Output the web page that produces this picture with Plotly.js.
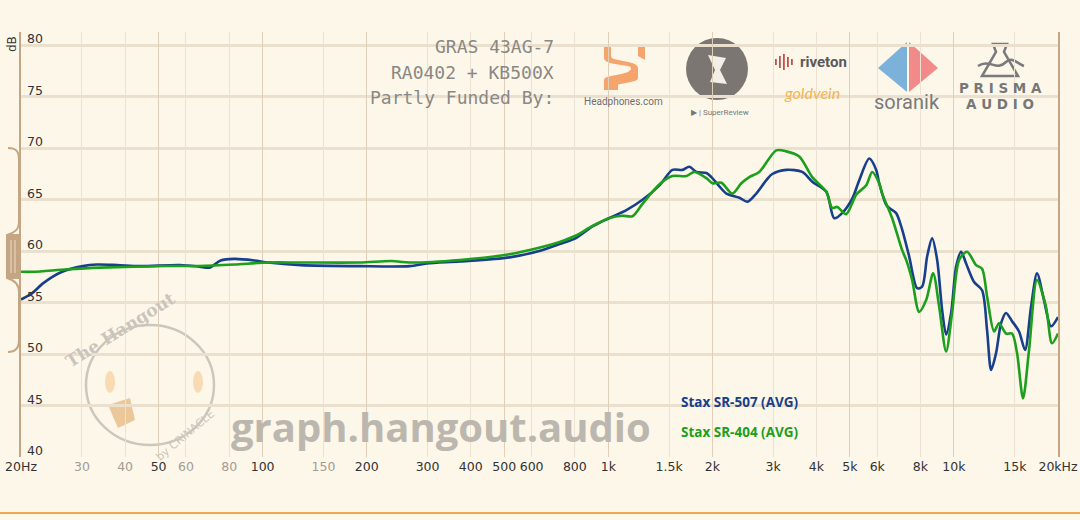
<!DOCTYPE html>
<html>
<head>
<meta charset="utf-8">
<script src="https://cdn.plot.ly/plotly-3.0.1.min.js"></script>
<style>
  html, body { margin: 0; padding: 0; background: #fdf7ea; }
  #chart { width: 1080px; height: 520px; }
</style>
</head>
<body>
<div id="chart"></div>
<script>
// ---------------- data ----------------
const FREQ_507 = [20, 21.5, 23.2, 26.3, 30.2, 33.1, 37.9, 44.1, 57.6, 65.6, 70.2, 75.6, 82.7, 94.6, 103.7, 128.9, 190.8, 266, 298.5, 372, 518, 643, 723, 804, 900, 1004, 1128, 1256, 1406, 1533, 1638, 1716, 1798, 1922, 1987, 2096, 2196, 2394, 2526, 2680, 2866, 2982, 3274, 3640, 3890, 4270, 4504, 4750, 5078, 5322, 5686, 5958, 6078, 6368, 6496, 6804, 7082, 7420, 7826, 8090, 8366, 8648, 8942, 9242, 9492, 9814, 10146, 10490, 10844, 11436, 12060, 12470, 12808, 13240, 13688, 14148, 14726, 15428, 16058, 16712, 17392, 18218, 19088, 20000];
const SPL_507  = [55.3, 55.9, 56.9, 58.0, 58.55, 58.7, 58.65, 58.55, 58.65, 58.5, 58.4, 59.1, 59.25, 59.1, 58.9, 58.65, 58.55, 58.55, 58.8, 59.0, 59.4, 60.1, 60.7, 61.25, 62.4, 63.2, 64.0, 65.0, 66.4, 67.9, 67.9, 68.2, 67.7, 67.6, 67.2, 66.3, 65.6, 65.2, 64.8, 65.6, 66.9, 67.5, 67.9, 67.7, 66.75, 65.8, 63.2, 63.7, 65.1, 66.9, 69.0, 67.9, 66.6, 64.5, 64.2, 63.7, 62.1, 59.5, 56.4, 56.55, 59.5, 61.25, 59.15, 54.3, 51.9, 54.0, 58.5, 59.95, 58.8, 57.0, 56.2, 52.3, 48.45, 50.1, 53.0, 54.0, 53.2, 52.2, 50.4, 54.6, 57.85, 55.25, 52.7, 53.6];

const FREQ_404 = [20, 21.7, 27.2, 33.8, 52.9, 65.6, 82.7, 103.7, 128.9, 190.8, 236, 266, 372, 518, 643, 723, 804, 900, 1004, 1098, 1175, 1256, 1406, 1533, 1683, 1774, 1922, 2000, 2124, 2284, 2426, 2558, 2734, 3062, 3274, 3568, 3890, 4270, 4444, 4596, 4878, 5216, 5574, 5800, 6078, 6200, 6626, 7082, 7274, 7568, 7930, 8310, 8706, 9062, 9492, 9878, 10352, 10916, 11588, 12060, 12470, 13062, 13506, 14148, 14726, 15224, 15844, 16492, 17392, 18462, 19216, 20000];
const SPL_404  = [58.0, 58.0, 58.24, 58.4, 58.56, 58.56, 58.7, 58.9, 58.9, 58.9, 59.05, 58.9, 59.15, 59.7, 60.4, 60.9, 61.5, 62.45, 63.2, 63.45, 63.4, 64.6, 66.5, 67.3, 67.3, 67.7, 67.1, 66.6, 66.65, 65.6, 66.6, 67.2, 67.7, 69.8, 69.7, 69.2, 67.2, 65.8, 64.2, 64.3, 63.6, 65.5, 66.4, 67.7, 66.6, 65.6, 63.2, 60.1, 59.15, 57.2, 54.1, 55.25, 57.85, 54.6, 50.25, 54.0, 59.15, 59.95, 58.65, 58.3, 55.6, 52.2, 53.0, 52.0, 52.0, 50.1, 45.7, 50.4, 57.2, 54.6, 51.05, 52.0];

const SERIES_NAMES = ['Stax SR-507 (AVG)', 'Stax SR-404 (AVG)'];
const X_TICKS = [20, 30, 40, 50, 60, 80, 100, 150, 200, 300, 400, 500, 600, 800, 1000, 1500, 2000, 3000, 4000, 5000, 6000, 8000, 10000, 15000, 20000];
const X_TICK_LABELS = ['20Hz', '30', '40', '50', '60', '80', '100', '150', '200', '300', '400', '500', '600', '800', '1k', '1.5k', '2k', '3k', '4k', '5k', '6k', '8k', '10k', '15k', '20kHz'];
const X_TICK_MUTED = ['30', '40', '60', '80', '150'];
const X_MAJOR_GRID = [50, 100, 200, 500, 1000, 2000, 5000, 10000];
const Y_TICKS = [40, 45, 50, 55, 60, 65, 70, 75, 80];
const Y_TICK_LABELS = ['40', '45', '50', '55', '60', '65', '70', '75', '80'];
const HEADER_LINES = ['GRAS 43AG-7', 'RA0402 + KB500X', 'Partly Funded By:'];
const WATERMARK = 'graph.hangout.audio';

// ---------------- layout helpers (decoration placement in pixels) ----------------
const W = 1080, H = 520;
const M = { l: 21, r: 22, t: 32, b: 63 };
const PW = W - M.l - M.r, PH = H - M.t - M.b;
const px = x => (x - M.l) / PW;
const py = y => (H - M.b - y) / PH;
function P(x, y) { return px(x).toFixed(5) + ',' + py(y).toFixed(5); }

const BLUE = '#173f8c';
const GREEN = '#1c9f1c';
const TAN = '#c4a584';

const tickText = X_TICK_LABELS.map(t => X_TICK_MUTED.includes(t)
  ? '<span style="fill:#a39c93">' + t + '</span>' : t);

const traces = [
  { x: FREQ_507, y: SPL_507, name: SERIES_NAMES[0], type: 'scatter', mode: 'lines',
    line: { color: BLUE, width: 2.6, shape: 'spline', smoothing: 0.8 }, hoverinfo: 'skip' },
  { x: FREQ_404, y: SPL_404, name: SERIES_NAMES[1], type: 'scatter', mode: 'lines',
    line: { color: GREEN, width: 2.6, shape: 'spline', smoothing: 0.8 }, hoverinfo: 'skip' },
  { x: [], y: [], xaxis: 'x2', type: 'scatter', mode: 'lines', showlegend: false, hoverinfo: 'skip' }
];

const annotations = [];
// y tick labels (inside, above each gridline)
Y_TICKS.forEach((v, i) => annotations.push({ xref: 'paper', yref: 'y', x: px(25), y: v, text: Y_TICK_LABELS[i],
  showarrow: false, xanchor: 'left', yanchor: 'bottom', yshift: -3,
  font: { family: 'DejaVu Sans', size: 12.5, color: '#333' } }));
// dB label
annotations.push({ xref: 'paper', yref: 'paper', x: px(12), y: py(44), text: 'dB', showarrow: false,
  textangle: -90, font: { family: 'DejaVu Sans', size: 12, color: '#333' }, xanchor: 'center', yanchor: 'middle' });
// header
HEADER_LINES.forEach((t, i) => annotations.push({ xref: 'paper', yref: 'paper', x: px(556), y: py(47 + i * 25),
  text: t, showarrow: false, xanchor: 'right', yanchor: 'middle',
  font: { family: 'DejaVu Sans Mono', size: 18, color: '#8a8885' } }));
// legend labels
SERIES_NAMES.forEach((t, i) => annotations.push({ xref: 'paper', yref: 'paper', x: px(679), y: py(402 + i * 30),
  text: '<b>' + t + '</b>', showarrow: false, xanchor: 'left', yanchor: 'middle',
  font: { family: 'Open Sans', size: 13.5, color: i === 0 ? BLUE : GREEN } }));
// watermark
annotations.push({ xref: 'paper', yref: 'paper', x: px(441), y: py(426), text: '<b>' + WATERMARK + '</b>',
  showarrow: false, xanchor: 'center', yanchor: 'middle',
  font: { family: 'Open Sans', size: 40, color: '#bcb7ae' } });
// logos as text
const logoText = [
  { x: 623, y: 102, t: 'Headphones.com', s: 10, c: '#6e6e6e', f: 'Roboto' },
  { x: 720, y: 113, t: '▶ | SuperReview', s: 8, c: '#777', f: 'Roboto' },
  { x: 823, y: 62, t: '<b>riveton</b>', s: 15, c: '#5a5a5a', f: 'Roboto' },
  { x: 812, y: 92, t: '<i>goldvein</i>', s: 16, c: '#f0b552', f: 'Lato' },
  { x: 907, y: 102, t: 'soranik', s: 20, c: '#7a7a7a', f: 'Roboto' },
  { x: 1000, y: 88, t: '<b>P R I S M A</b>', s: 13.5, c: '#777', f: 'DejaVu Sans' },
  { x: 1000, y: 104, t: '<b>A U D I O</b>', s: 13.5, c: '#777', f: 'DejaVu Sans' },
  { x: 120, y: 330, t: '<b>The Hangout</b>', s: 17, c: '#cbc4ba', f: 'DejaVu Serif', a: -32 },
  { x: 185, y: 435, t: 'by CRINACLE', s: 11, c: '#cbc4ba', f: 'DejaVu Sans', a: -40 }
];
logoText.forEach(o => annotations.push({ xref: 'paper', yref: 'paper', x: px(o.x), y: py(o.y), text: o.t,
  showarrow: false, xanchor: 'center', yanchor: 'middle', textangle: o.a || 0,
  font: { family: o.f, size: o.s, color: o.c } }));

const shapes = [];
function rectPx(x0, y0, x1, y1, fill, line) {
  shapes.push({ type: 'rect', xref: 'paper', yref: 'paper', x0: px(x0), x1: px(x1), y0: py(y1), y1: py(y0),
    fillcolor: fill, line: line || { width: 0 }, layer: 'below' });
}
function circlePx(cx, cy, rx, ry, fill, line) {
  shapes.push({ type: 'circle', xref: 'paper', yref: 'paper', x0: px(cx - rx), x1: px(cx + rx), y0: py(cy + ry), y1: py(cy - ry),
    fillcolor: fill, line: line || { width: 0 }, layer: 'below' });
}
function pathPx(d, fill, line) {
  shapes.push({ type: 'path', xref: 'paper', yref: 'paper', path: d, fillcolor: fill, line: line || { width: 0 }, layer: 'below' });
}
// bottom orange rule
shapes.push({ type: 'line', xref: 'paper', yref: 'paper', x0: px(0), x1: px(W), y0: py(513), y1: py(513),
  line: { color: '#f0a850', width: 2 } });
// range handle on the left
pathPx('M' + P(8, 148) + ' C' + P(16, 148) + ' ' + P(19, 151) + ' ' + P(19, 160) + ' L' + P(19, 222) +
  ' C' + P(19, 230) + ' ' + P(14, 233) + ' ' + P(7, 235) + ' L' + P(7, 278) + ' C' + P(14, 280) + ' ' + P(19, 284) + ' ' + P(19, 292) +
  ' L' + P(19, 340) + ' C' + P(19, 348) + ' ' + P(16, 352) + ' ' + P(8, 352), 'rgba(0,0,0,0)', { color: TAN, width: 2 });
rectPx(7, 234, 19, 279, TAN);
rectPx(10.5, 240, 11.5, 273, '#eadcc6');
rectPx(14.5, 240, 15.5, 273, '#eadcc6');
// Headphones.com mark
pathPx('M' + P(604, 47) + ' L' + P(611, 47) + ' L' + P(611, 56) + ' C' + P(611, 62) + ' ' + P(638, 60) + ' ' + P(638, 68) +
  ' L' + P(638, 78) + ' C' + P(638, 84) + ' ' + P(611, 82) + ' ' + P(611, 90) + ' L' + P(604, 90) + ' L' + P(604, 80) +
  ' C' + P(604, 74) + ' ' + P(631, 76) + ' ' + P(631, 68) + ' C' + P(631, 64) + ' ' + P(604, 66) + ' ' + P(604, 58) + ' Z', '#f5a46c');
pathPx('M' + P(638, 47) + ' L' + P(645, 47) + ' L' + P(645, 60) + ' L' + P(638, 56) + ' Z', '#f5a46c');
pathPx('M' + P(611, 82) + ' L' + P(618, 82) + ' L' + P(618, 90) + ' L' + P(611, 90) + ' Z', '#f5a46c');
// SuperReview circle
circlePx(717, 69, 31, 31, '#7b7671');
pathPx('M' + P(708, 55) + ' L' + P(726, 58) + ' L' + P(720, 70) + ' L' + P(727, 84) + ' L' + P(710, 82) + ' L' + P(715, 70) + ' Z', '#f4efe6');
// riveton waveform icon
[775, 779, 783, 787, 791].forEach((x, i) => rectPx(x, 62 - [3, 6, 8, 5, 3][i], x + 1.8, 62 + [3, 6, 8, 5, 3][i], '#c0504d'));
// soranik diamond
pathPx('M' + P(907, 42) + ' L' + P(878, 68) + ' L' + P(907, 92) + ' Z', '#7cb2da');
pathPx('M' + P(909, 42) + ' L' + P(938, 68) + ' L' + P(909, 92) + ' Z', '#f28a8a');
// PRISMA mountain
pathPx('M' + P(993, 44) + ' L' + P(1007, 44) + ' L' + P(1004, 52) + ' L' + P(1018, 76) + ' L' + P(982, 76) + ' L' + P(996, 52) + ' Z',
  'rgba(0,0,0,0)', { color: '#7a7a7a', width: 2.5 });
pathPx('M' + P(978, 66) + ' C' + P(990, 58) + ' ' + P(996, 72) + ' ' + P(1006, 62) + ' C' + P(1012, 56) + ' ' + P(1018, 64) + ' ' + P(1024, 66),
  'rgba(0,0,0,0)', { color: '#7a7a7a', width: 2.5 });
// Hangout watermark circle
circlePx(150, 385, 64, 60, 'rgba(0,0,0,0)', { color: '#cdc6bc', width: 2.5 });
circlePx(110, 382, 5, 11, '#f9dbb3');
circlePx(198, 382, 5, 11, '#f9dbb3');
pathPx('M' + P(108, 405) + ' L' + P(130, 398) + ' L' + P(135, 420) + ' L' + P(118, 428) + ' Z', '#ecc79a');

const layout = {
  width: W, height: H,
  margin: M,
  paper_bgcolor: '#fdf7ea',
  plot_bgcolor: '#fdf7ea',
  showlegend: false,
  font: { family: 'DejaVu Sans', color: '#333' },
  xaxis: {
    type: 'log', range: [Math.log10(19.995), Math.log10(20000)],
    tickvals: X_TICKS, ticktext: tickText, ticks: '',
    tickfont: { family: 'DejaVu Sans', size: 12.5, color: '#333' },
    showgrid: true, gridcolor: '#ece2d3', gridwidth: 1,
    zeroline: false, showline: false, fixedrange: true
  },
  xaxis2: {
    type: 'log', range: [Math.log10(19.995), Math.log10(20000)], overlaying: 'x',
    tickvals: X_MAJOR_GRID, showticklabels: false, ticks: '',
    showgrid: true, gridcolor: '#dfcfb9', gridwidth: 1, zeroline: false, showline: false
  },
  yaxis: {
    range: [40, 81.3], tickvals: Y_TICKS, ticks: '', showticklabels: false,
    showgrid: true, gridcolor: '#ebdfcd', gridwidth: 3,
    zeroline: false, showline: true, linecolor: TAN, linewidth: 2, mirror: true, fixedrange: true
  },
  annotations: annotations,
  shapes: shapes
};

Plotly.newPlot('chart', traces, layout, { staticPlot: true, displayModeBar: false });
</script>
</body>
</html>
